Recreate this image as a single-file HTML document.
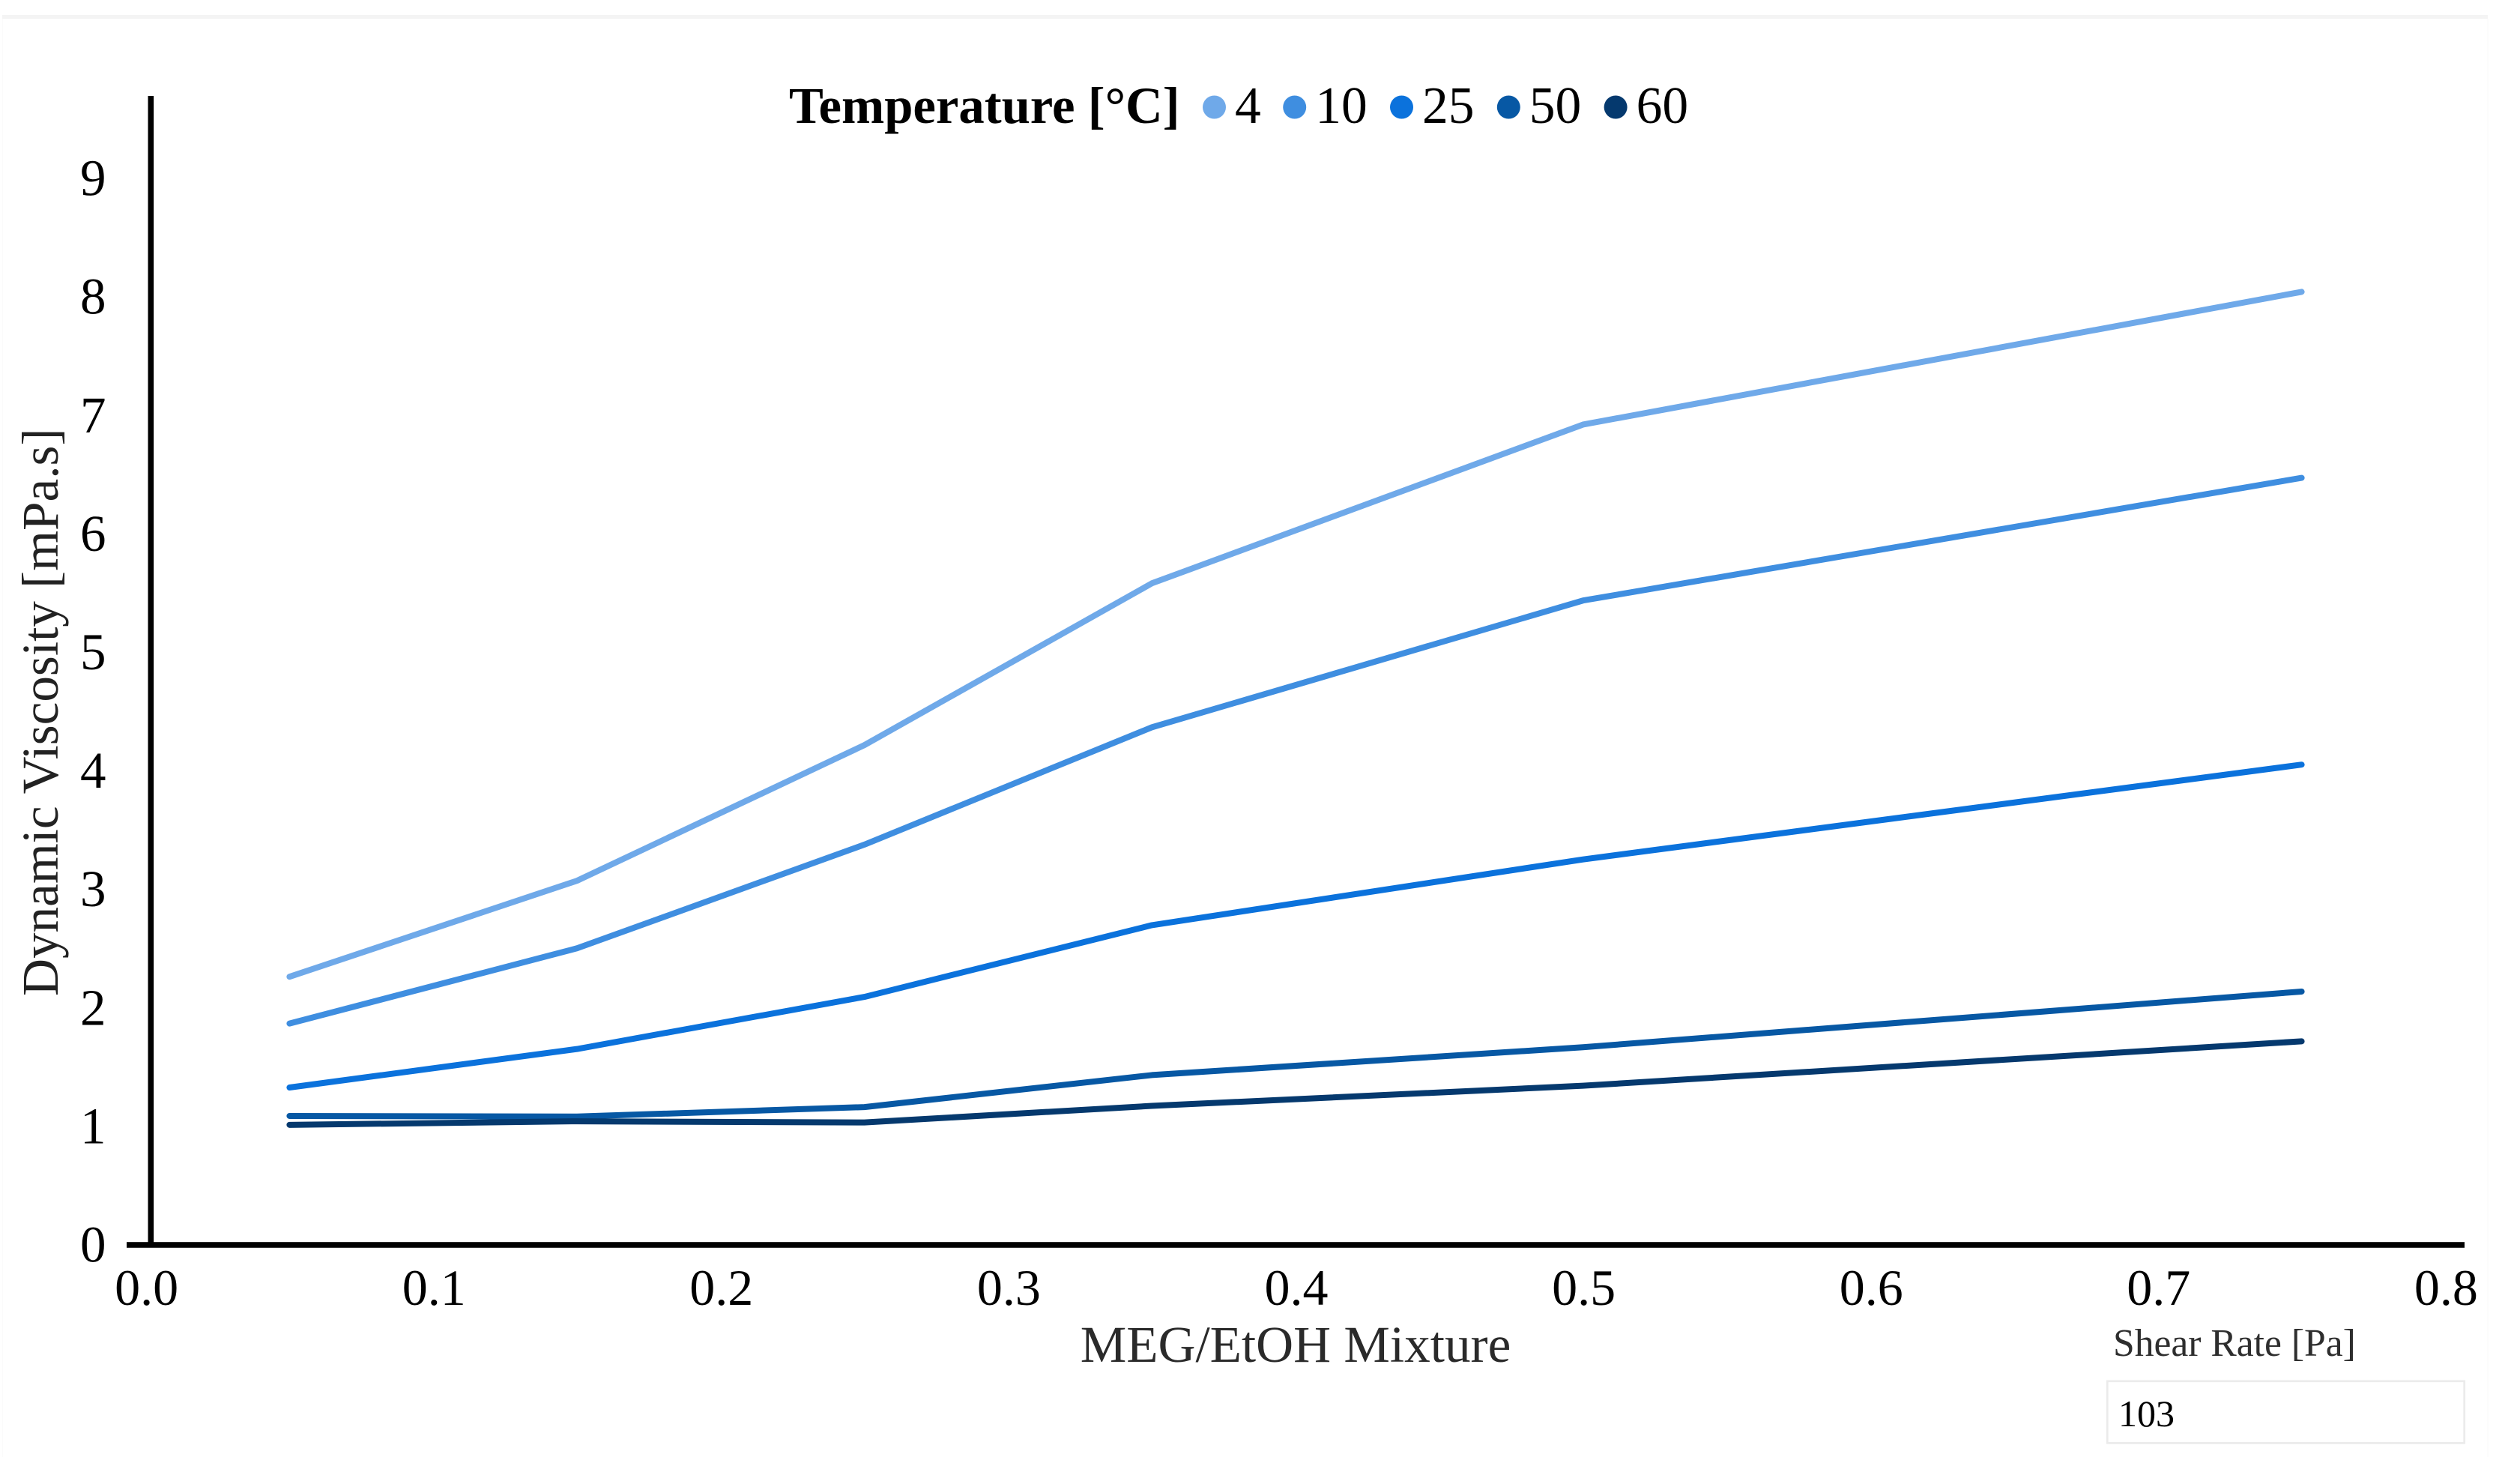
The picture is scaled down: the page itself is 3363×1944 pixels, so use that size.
<!DOCTYPE html>
<html lang="en">
<head>
<meta charset="utf-8">
<title>Dynamic Viscosity vs MEG/EtOH Mixture</title>
<style>
  html, body { margin: 0; padding: 0; background: #ffffff; }
  body { width: 3363px; height: 1944px; overflow: hidden; position: relative; font-family: "Liberation Serif", "Times New Roman", serif; }
  #chart { position: absolute; left: 0; top: 0; display: block; }
  text { font-family: "Liberation Serif", "Times New Roman", serif; }
</style>
</head>
<body>
<svg id="chart" width="3363" height="1944" viewBox="0 0 3363 1944" xmlns="http://www.w3.org/2000/svg">
  <rect x="3" y="20" width="3317" height="5" fill="#f4f4f4"></rect>
  <rect x="3319.5" y="25" width="1" height="1919" fill="#f8f8f8"></rect>
  <rect x="3" y="25" width="1" height="1919" fill="#fbfbfb"></rect>

  <g id="series-layer"></g>
  <g id="tick-layer"></g>

  <rect x="197.5" y="128" width="7.6" height="1533" fill="#000000"></rect>
  <rect x="169" y="1657.2" width="3120" height="7.6" fill="#000000"></rect>

  <text transform="translate(77,1329) rotate(-90)" font-size="69.2" fill="#222222">Dynamic Viscosity [mPa.s]</text>
  <text x="1729" y="1817" text-anchor="middle" font-size="69.2" fill="#2a2a2a">MEG/EtOH Mixture</text>

  <g>
    <text x="1053" y="164" font-size="68.7" font-weight="bold" fill="#000000">Temperature [°C]</text>
    <g id="legend-layer"></g>
  </g>

  <text x="2820" y="1809" font-size="51.6" fill="#2e2e2e">Shear Rate [Pa]</text>
  <rect x="2812.3" y="1842.8" width="476.4" height="82.6" fill="#ffffff" stroke="#ebebeb" stroke-width="2.7"></rect>
  <text x="2827" y="1903" font-size="50" fill="#000000">103</text>
</svg>

<script>
const xValues = [0.05, 0.15, 0.25, 0.35, 0.5, 0.75];
const temperatures = ["4", "10", "25", "50", "60"];
const viscosity4 = [2.26, 3.07, 4.215, 5.58, 6.92, 8.04];
const viscosity10 = [1.865, 2.50, 3.375, 4.365, 5.435, 6.47];
const viscosity25 = [1.325, 1.65, 2.09, 2.695, 3.25, 4.05];
const viscosity50 = [1.085, 1.08, 1.16, 1.43, 1.665, 2.135];
const viscosity60 = [1.01, 1.04, 1.03, 1.17, 1.34, 1.715];
const seriesColors = ["#6fa9e9", "#3f8ee0", "#0b72dc", "#0758a4", "#05396e"];
const xTickLabels = ["0.0", "0.1", "0.2", "0.3", "0.4", "0.5", "0.6", "0.7", "0.8"];
const yTickLabels = ["0", "1", "2", "3", "4", "5", "6", "7", "8", "9"];

const allSeries = [viscosity4, viscosity10, viscosity25, viscosity50, viscosity60];
const SVGNS = "http://www.w3.org/2000/svg";

function xScale(v) { return 194.6 + 3836 * v; }
function yScale(v) { return 1660.5 - 158.1 * v; }

const seriesLayer = document.getElementById("series-layer");
const tickLayer = document.getElementById("tick-layer");
const legendLayer = document.getElementById("legend-layer");

allSeries.forEach(function (values, s) {
  const line = document.createElementNS(SVGNS, "polyline");
  line.setAttribute("points", values.map(function (v, i) { return xScale(xValues[i]).toFixed(2) + "," + yScale(v).toFixed(2); }).join(" "));
  line.setAttribute("fill", "none");
  line.setAttribute("stroke", seriesColors[s]);
  line.setAttribute("stroke-width", "8");
  line.setAttribute("stroke-linecap", "round");
  line.setAttribute("stroke-linejoin", "round");
  
  
  seriesLayer.appendChild(line);
});

xTickLabels.forEach(function (label) {
  const t = document.createElementNS(SVGNS, "text");
  t.textContent = label;
  t.setAttribute("x", (xScale(parseFloat(label)) + 1).toFixed(2));
  t.setAttribute("y", "1741");
  t.setAttribute("text-anchor", "middle");
  t.setAttribute("font-size", "68");
  t.setAttribute("fill", "#000000");
  
  
  tickLayer.appendChild(t);
});

yTickLabels.forEach(function (label) {
  const t = document.createElementNS(SVGNS, "text");
  t.textContent = label;
  t.setAttribute("x", "141.5");
  t.setAttribute("y", (yScale(parseFloat(label)) + 23).toFixed(2));
  t.setAttribute("text-anchor", "end");
  t.setAttribute("font-size", "69");
  t.setAttribute("fill", "#000000");
  
  
  tickLayer.appendChild(t);
});

let legendCursor = 1620.5;
temperatures.forEach(function (label, s) {
  const dot = document.createElementNS(SVGNS, "circle");
  dot.setAttribute("cx", legendCursor.toFixed(1));
  dot.setAttribute("cy", "143");
  dot.setAttribute("r", "15.5");
  dot.setAttribute("fill", seriesColors[s]);
  
  
  legendLayer.appendChild(dot);

  const t = document.createElementNS(SVGNS, "text");
  t.textContent = label;
  t.setAttribute("x", (legendCursor + 27.5).toFixed(1));
  t.setAttribute("y", "164");
  t.setAttribute("font-size", "69.5");
  t.setAttribute("fill", "#000000");
  
  
  legendLayer.appendChild(t);

  legendCursor += 71.6 + label.length * 35.6;
});
</script>
</body>
</html>
